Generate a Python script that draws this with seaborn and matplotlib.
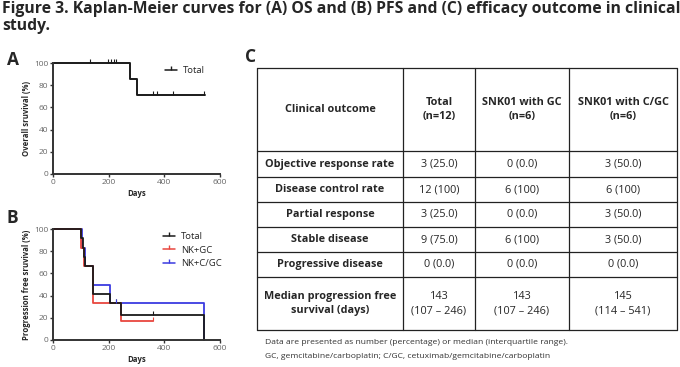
import matplotlib
matplotlib.use("Agg")
import matplotlib.pyplot as plt
import seaborn as sns
import pandas as pd
from matplotlib.lines import Line2D

sns.set_theme(style="ticks")
plt.rcParams['font.family'] = ['Open Sans', 'DejaVu Sans']

# --- data ---
# (A) overall survival, step points (days, %)
os_days = [0, 276, 300, 545]
os_surv = [100, 85.7, 71.4, 71.4]
os_cens_days = [132, 198, 208, 218, 228, 360, 374, 430, 542]
os_cens_surv = [100, 100, 100, 100, 100, 71.4, 71.4, 71.4, 71.4]

# (B) progression free survival, step points per group
pfs_total_days = [0, 102, 107, 110, 114, 143, 205, 246, 541]
pfs_total_surv = [100, 91.7, 83.3, 75.0, 66.7, 41.7, 33.3, 22.2, 0]
pfs_gc_days = [0, 100, 110, 143, 246, 360]
pfs_gc_surv = [100, 83.3, 66.7, 33.3, 16.7, 16.7]
pfs_cgc_days = [0, 105, 114, 145, 205, 541]
pfs_cgc_surv = [100, 83.3, 66.7, 50.0, 33.3, 0]
pfs_cens = {'Total': ([228, 360], [33.3, 22.2]),
            'NK+GC': ([360], [16.7]),
            'NK+C/GC': ([228], [33.3])}

# (C) table
col_headers = ['Clinical outcome', 'Total\n(n=12)', 'SNK01 with GC\n(n=6)', 'SNK01 with C/GC\n(n=6)']
outcomes = ['Objective response rate', 'Disease control rate', 'Partial response',
            'Stable disease', 'Progressive disease', 'Median progression free\nsurvival (days)']
total_col = ['3 (25.0)', '12 (100)', '3 (25.0)', '9 (75.0)', '0 (0.0)', '143\n(107 \u2013 246)']
gc_col = ['0 (0.0)', '6 (100)', '0 (0.0)', '6 (100)', '0 (0.0)', '143\n(107 \u2013 246)']
cgc_col = ['3 (50.0)', '6 (100)', '3 (50.0)', '3 (50.0)', '0 (0.0)', '145\n(114 \u2013 541)']

colors = {'Total': '#1a1a1a', 'NK+GC': '#e8473f', 'NK+C/GC': '#3b3be0'}

W, H = 680, 367
fig = plt.figure(figsize=(W / 100, H / 100), dpi=100)


def style_km(ax, ylabel):
    ax.set_xlim(0, 600)
    ax.set_ylim(0, 100)
    ax.set_xticks([0, 200, 400, 600])
    ax.set_yticks([0, 20, 40, 60, 80, 100])
    ax.tick_params(labelsize=6, colors='#333333', labelcolor='#666666',
                   length=2.5, width=1, pad=1)
    for s in ['top', 'right']:
        ax.spines[s].set_visible(False)
    for s in ['left', 'bottom']:
        ax.spines[s].set_linewidth(1.4)
        ax.spines[s].set_color('#333333')
    ax.set_xlabel('Days', fontsize=5.6, fontweight='bold', labelpad=2)
    ax.set_ylabel(ylabel, fontsize=5.6, fontweight='bold', labelpad=2)
    ax.set_facecolor('white')


def km_line(ax, days, surv, color, lw=1.3):
    df = pd.DataFrame({'d': days, 's': surv})
    sns.lineplot(data=df, x='d', y='s', drawstyle='steps-post', color=color,
                 linewidth=lw, ax=ax, estimator=None, sort=False, clip_on=False)


def km_cens(ax, days, surv, color):
    ax.plot(days, surv, linestyle='none', marker=2, markersize=3,
            markeredgewidth=0.8, color=color, clip_on=False)


def px_axes(x0, y0, x1, y1):
    return fig.add_axes([x0 / W, 1 - y1 / H, (x1 - x0) / W, (y1 - y0) / H])


# ---- A ----
axA = px_axes(53, 63, 220, 174)
km_line(axA, os_days, os_surv, colors['Total'], lw=1.4)
km_cens(axA, os_cens_days, os_cens_surv, colors['Total'])
style_km(axA, 'Overall sruvival (%)')
axA.legend(handles=[Line2D([], [], color=colors['Total'], lw=1.1, marker=2, markersize=3)],
           labels=['Total'], loc='upper right', bbox_to_anchor=(0.96, 1.05),
           frameon=False, fontsize=6.8, handlelength=1.3, handletextpad=0.6)

# ---- B ----
axB = px_axes(53, 229, 220, 340)
km_line(axB, pfs_cgc_days, pfs_cgc_surv, colors['NK+C/GC'])
km_line(axB, pfs_gc_days, pfs_gc_surv, colors['NK+GC'])
km_line(axB, pfs_total_days, pfs_total_surv, colors['Total'])
for g, (cd, cs) in pfs_cens.items():
    km_cens(axB, cd, cs, colors[g])
style_km(axB, 'Progression free sruvival (%)')
hB = [Line2D([], [], color=colors[g], lw=1.1, marker=2, markersize=3) for g in colors]
axB.legend(handles=hB, labels=list(colors), loc='upper right', bbox_to_anchor=(1.06, 1.05),
           frameon=False, fontsize=6.8, handlelength=1.3, handletextpad=0.6,
           labelspacing=0.5)

# ---- overlay: title, panel letters, table ----
ov = fig.add_axes([0, 0, 1, 1], zorder=-1)
ov.set_xlim(0, W)
ov.set_ylim(H, 0)
ov.axis('off')

ov.text(2, 1, 'Figure 3. Kaplan-Meier curves for (A) OS and (B) PFS and (C) efficacy outcome in clinical\nstudy.',
        fontsize=11.35, fontweight='bold', va='top', ha='left', linespacing=1.12)
for lab, x, y in [('A', 7, 60), ('B', 7, 218), ('C', 245, 57)]:
    ov.text(x, y, lab, fontsize=12.5, fontweight='bold', va='center', ha='left')

col_x = [257, 403, 475, 569, 677]
row_y = [68, 151, 177, 202, 227, 252, 277, 330]
for y in row_y:
    ov.plot([col_x[0], col_x[-1]], [y, y], color='#222222', lw=0.9)
for x in col_x:
    ov.plot([x, x], [row_y[0], row_y[-1]], color='#222222', lw=0.9)

cols = [outcomes, total_col, gc_col, cgc_col]
for j in range(4):
    cx = (col_x[j] + col_x[j + 1]) / 2
    ov.text(cx, (row_y[0] + row_y[1]) / 2, col_headers[j], fontsize=7.8,
            fontweight='bold', ha='center', va='center', linespacing=1.45)
    for i, val in enumerate(cols[j]):
        cy = (row_y[i + 1] + row_y[i + 2]) / 2
        ov.text(cx, cy, val, fontsize=7.8, fontweight='bold' if j == 0 else 'normal',
                ha='center', va='center', linespacing=1.45)

ov.text(265, 343, 'Data are presented as number (percentage) or median (interquartile range).',
        fontsize=6.1, color='#333333', va='center', ha='left')
ov.text(265, 356, 'GC, gemcitabine/carboplatin; C/GC, cetuximab/gemcitabine/carboplatin',
        fontsize=6.1, color='#333333', va='center', ha='left')

fig.savefig('out.png', dpi=100, facecolor='white')
